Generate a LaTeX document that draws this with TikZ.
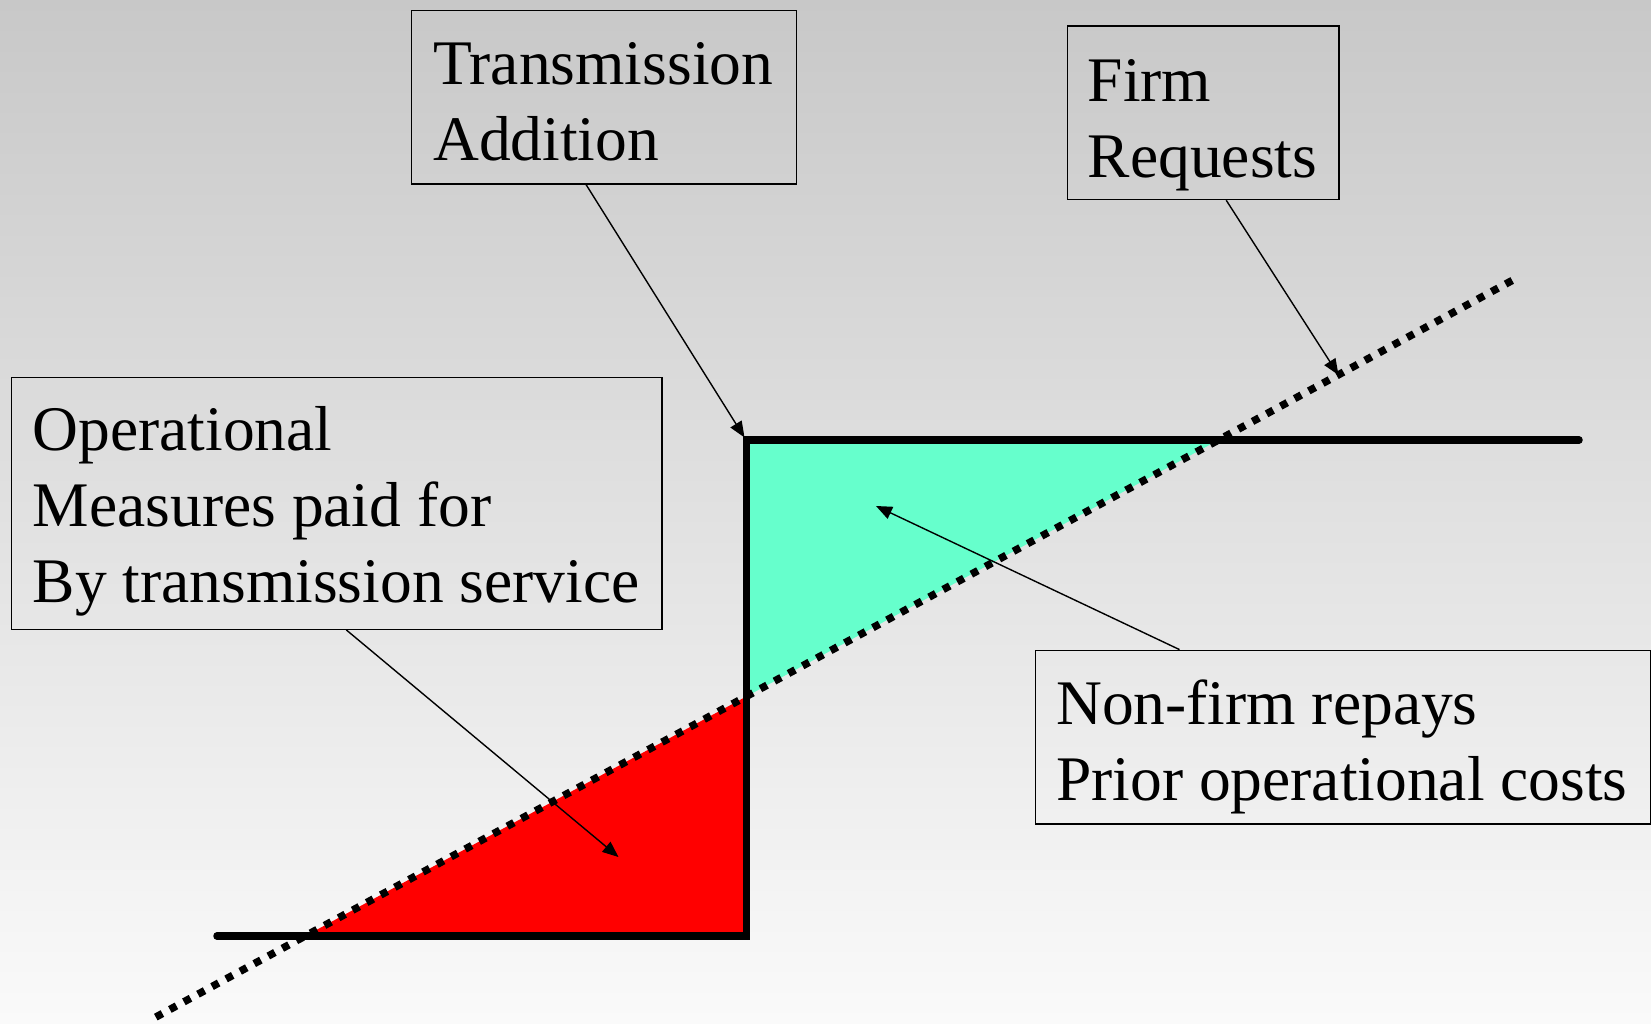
\documentclass[tikz,border=0pt]{standalone}
\usepackage{fontspec}
\setmainfont{Liberation Serif}
\usetikzlibrary{arrows.meta,calc}
\definecolor{aquafill}{RGB}{102,255,204}
\definecolor{redfill}{RGB}{255,0,0}
\definecolor{bgtop}{RGB}{200,200,200}
\definecolor{bgbot}{RGB}{250,250,250}
\begin{document}
\begin{tikzpicture}[x=1pt,y=-1pt,
  box/.style={draw=black, line width=1.3pt, inner sep=0pt, anchor=north west},
  txt/.style={font=\fontsize{63.5}{76}\selectfont, align=left, inner sep=0pt, anchor=base west},
  conn/.style={-{Triangle[length=16pt,width=13pt]}, line width=1.4pt},
  stepline/.style={line width=7.5pt, line cap=round, line join=miter},
  dotline/.style={line width=7.5pt, dash pattern=on 7.5pt off 8.5pt}]
% background
\shade[top color=bgtop, bottom color=bgbot] (0,0) rectangle (1651,1023);
\useasboundingbox (0,0) rectangle (1651,1023);
% geometry
\coordinate (d1) at (155.8,1017.1);
\coordinate (d2) at (1513,280);
\coordinate (s1) at (217,936);
\coordinate (c1) at (746.5,936);
\coordinate (c2) at (746.5,440);
\coordinate (s2) at (1579,440);
\coordinate (lowx) at (intersection of d1--d2 and s1--c1);
\coordinate (midx) at (intersection of d1--d2 and c1--c2);
\coordinate (topx) at (intersection of d1--d2 and c2--s2);
% fills
\fill[redfill] (lowx) -- (c1) -- (midx) -- cycle;
\fill[aquafill] (c2) -- (topx) -- (midx) -- cycle;
% dotted diagonal
\draw[dotline] (d1) -- (d2);
% step
\draw[stepline] (s1) -- (c1) -- (c2) -- (s2);
% boxes
\node[box, minimum width=385.4pt, minimum height=173.7pt] (ta) at (410.6,9.5) {};
\node[box, minimum width=271.6pt, minimum height=173.7pt] (fr) at (1066.6,25.3) {};
\node[box, minimum width=650.7pt, minimum height=251.6pt] (op) at (10.5,377) {};
\node[box, minimum width=615pt, minimum height=173.8pt] (nf) at (1035,649.6) {};
% texts (base anchor = baseline of last line)
\node[txt] (tat) at (433,160) {Transmission\\Addition};
\node[txt] (frt) at (1087.6,177) {Firm\\Requests};
\node[txt] (opt) at (32.6,602.3) {Operational\\Measures paid for\\By transmission service};
\node[txt] (nft) at (1056,800.2) {Non-firm repays\\Prior operational costs};
% arrow targets
\coordinate (taend) at (744.5,437.5);
\coordinate (frend) at (1338.5,375);
\coordinate (opend) at (618.5,857);
\coordinate (nfend) at (876,506);
% connectors
\draw[conn] ($(ta.south west)!0.4536!(ta.south east)$) -- (taend);
\draw[conn] ($(fr.south west)!0.585!(fr.south east)$) -- (frend);
\draw[conn] ($(op.south west)!0.515!(op.south east)$) -- (opend);
\draw[conn] ($(nf.north west)!0.2345!(nf.north east)$) -- (nfend);
\end{tikzpicture}
\end{document}
